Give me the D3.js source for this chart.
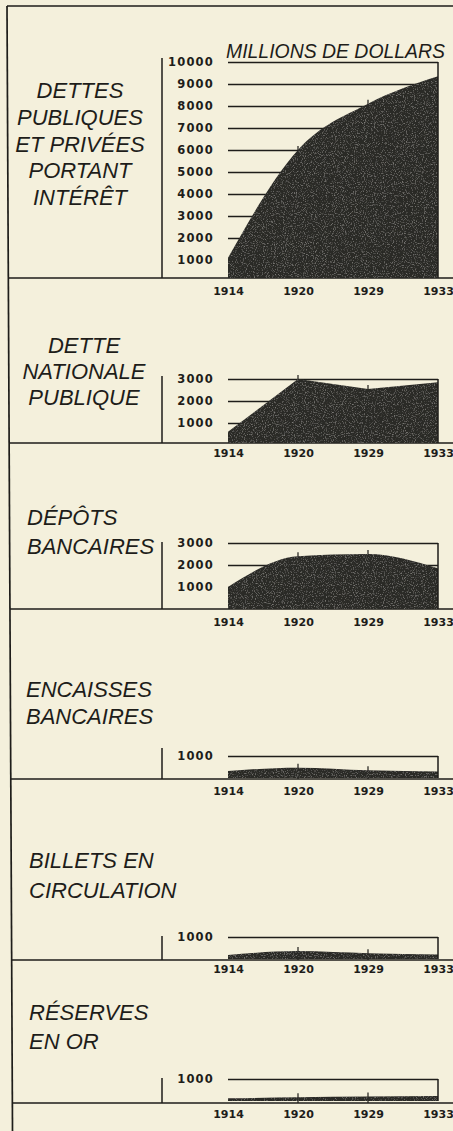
<!DOCTYPE html>
<html>
<head>
<meta charset="utf-8">
<style>
html, body { margin: 0; padding: 0; background: #f4f0dc; }
svg { display: block; background: #f4f0dc; }
.title { font-family: "Liberation Sans", sans-serif; font-style: italic; font-size: 22px; fill: #1e1d1a; }
.unit { font-family: "Liberation Sans", sans-serif; font-style: italic; font-size: 20px; fill: #1e1d1a; }
.yaxis .tick text { font-family: "DejaVu Sans", sans-serif; font-weight: bold; font-size: 11.5px; letter-spacing: 1.2px; fill: #1e1d1a; }
.xaxis .tick text { font-family: "DejaVu Sans", sans-serif; font-weight: bold; font-size: 11px; fill: #1e1d1a; }
.yaxis .tick line { stroke: #1e1d1a; stroke-width: 1.5; }
.rule { stroke: #1e1d1a; stroke-width: 1.7; fill: none; }
.frame { stroke: #1e1d1a; stroke-width: 1.5; fill: none; }
.mark { stroke: #1e1d1a; stroke-width: 1.2; }
.area { fill: #2b2a27; }
</style>
</head>
<body>
<svg width="453" height="1131"></svg>
<script src="https://cdn.jsdelivr.net/npm/d3@7"></script>
<script>

// data, millions de dollars
var years = [1914, 1920, 1929, 1933];

var dettesPubliquesPrivees = [1100, 6000, 8100, 9350];
var detteNationale = [600, 3000, 2550, 2850];
var depotsBancaires = [1000, 2400, 2500, 1850];
var encaissesBancaires = [320, 470, 350, 290];
var billetsCirculation = [180, 360, 260, 210];
var reservesOr = [120, 170, 200, 230];

var ticksDettes = [1000, 2000, 3000, 4000, 5000, 6000, 7000, 8000, 9000, 10000];
var ticksMoyens = [1000, 2000, 3000];
var ticksPetits = [1000];

var titreDettes = ["DETTES", "PUBLIQUES", "ET PRIVÉES", "PORTANT", "INTÉRÊT"];
var titreDette = ["DETTE", "NATIONALE", "PUBLIQUE"];
var titreDepots = ["DÉPÔTS", "BANCAIRES"];
var titreEncaisses = ["ENCAISSES", "BANCAIRES"];
var titreBillets = ["BILLETS EN", "CIRCULATION"];
var titreReserves = ["RÉSERVES", "EN OR"];

var unite = "MILLIONS DE DOLLARS";

var svg = d3.select("svg");
var W = 453, H = 1131;
var pxPer1000 = 22;

// grain for the black areas
var defs = svg.append("defs");
var grain = defs.append("filter").attr("id", "grain");
grain.append("feTurbulence")
  .attr("type", "fractalNoise").attr("baseFrequency", 0.9).attr("numOctaves", 2).attr("seed", 3)
  .attr("result", "noise");
grain.append("feColorMatrix").attr("in", "noise").attr("type", "matrix")
  .attr("values", "0 0 0 0 0.36  0 0 0 0 0.35  0 0 0 0 0.33  1.6 0 0 0 -0.85")
  .attr("result", "speck");
grain.append("feComposite").attr("in", "speck").attr("in2", "SourceGraphic").attr("operator", "in").attr("result", "clipped");
var merge = grain.append("feMerge");
merge.append("feMergeNode").attr("in", "SourceGraphic");
merge.append("feMergeNode").attr("in", "clipped");

var x = d3.scalePoint().domain(years).range([228, 438]);

var panels = [
  { values: dettesPubliquesPrivees, ticks: ticksDettes, title: titreDettes, zero: 282, sep: 278,
    tx: 80, anchor: "middle", ty: 98, lead: 26.8, curve: d3.curveMonotoneX, yearPad: 9, axisExtra: 4 },
  { values: detteNationale, ticks: ticksMoyens, title: titreDette, zero: 445, sep: 443,
    tx: 84, anchor: "middle", ty: 353, lead: 26, curve: d3.curveLinear, yearPad: 6.5, axisExtra: 3 },
  { values: depotsBancaires, ticks: ticksMoyens, title: titreDepots, zero: 609, sep: 609,
    tx: 27, anchor: "start", ty: 525, lead: 29, curve: d3.curveMonotoneX, yearPad: 9.5, axisExtra: 1 },
  { values: encaissesBancaires, ticks: ticksPetits, title: titreEncaisses, zero: 778, sep: 779,
    tx: 26, anchor: "start", ty: 697, lead: 27, curve: d3.curveMonotoneX, yearPad: 8, axisExtra: 8 },
  { values: billetsCirculation, ticks: ticksPetits, title: titreBillets, zero: 959, sep: 960,
    tx: 29, anchor: "start", ty: 868, lead: 30, curve: d3.curveMonotoneX, yearPad: 5, axisExtra: 1 },
  { values: reservesOr, ticks: ticksPetits, title: titreReserves, zero: 1101, sep: 1103,
    tx: 29, anchor: "start", ty: 1020, lead: 28.5, curve: d3.curveMonotoneX, yearPad: 7.5, axisExtra: 1 }
];

// outer border
svg.append("line").attr("class", "rule").attr("x1", 7).attr("y1", 6).attr("x2", W).attr("y2", 6);
svg.append("line").attr("class", "rule").attr("x1", 7).attr("y1", 6).attr("x2", 12.5).attr("y2", H);

function leftEdge(yy) { return 7 + 5.5 * (yy - 6) / (H - 6); }

panels.forEach(function(p) {
  var top = d3.max(p.ticks);
  var y = d3.scaleLinear().domain([0, top]).range([p.zero, p.zero - pxPer1000 * top / 1000]);
  var bottom = Math.min(p.zero, p.sep);
  var g = svg.append("g");

  // separator
  g.append("line").attr("class", "rule")
    .attr("x1", leftEdge(p.sep)).attr("y1", p.sep).attr("x2", W).attr("y2", p.sep);

  // gridlines + value labels
  var yAxis = d3.axisLeft(y)
    .tickValues(p.ticks)
    .tickFormat(d3.format("d"))
    .tickSize(-(x.range()[1] - x.range()[0]))
    .tickPadding(14);
  var ya = g.append("g").attr("class", "yaxis")
    .attr("transform", "translate(" + x.range()[0] + ",0)")
    .call(yAxis);
  ya.select(".domain").remove();

  // vertical axis line
  g.append("line").attr("class", "frame")
    .attr("x1", 162).attr("x2", 162)
    .attr("y1", y(top) - p.axisExtra).attr("y2", p.sep);

  // small marks at intermediate years (under the area)
  g.selectAll(".mark").data(years.slice(1, -1)).enter().append("line")
    .attr("class", "mark")
    .attr("x1", function(d) { return x(d); }).attr("x2", function(d) { return x(d); })
    .attr("y1", function(d) { return y(p.values[years.indexOf(d)]) - 4; })
    .attr("y2", p.sep);

  // area
  var area = d3.area()
    .x(function(d, i) { return x(years[i]); })
    .y0(bottom)
    .y1(function(d) { return Math.min(y(d), bottom); })
    .curve(p.curve);
  g.append("path").datum(p.values).attr("class", "area")
    .attr("filter", "url(#grain)")
    .attr("d", area);

  // right frame side
  g.append("line").attr("class", "frame")
    .attr("x1", x(years[years.length - 1])).attr("x2", x(years[years.length - 1]))
    .attr("y1", y(top)).attr("y2", bottom);

  // years
  var xAxis = d3.axisBottom(x).tickSize(0).tickPadding(p.yearPad);
  var xa = g.append("g").attr("class", "xaxis")
    .attr("transform", "translate(0," + p.sep + ")")
    .call(xAxis);
  xa.select(".domain").remove();

  // title
  g.selectAll(".title").data(p.title).enter().append("text")
    .attr("class", "title")
    .attr("x", p.tx)
    .attr("y", function(d, i) { return p.ty + i * p.lead; })
    .attr("text-anchor", p.anchor)
    .text(function(d) { return d; });
});

svg.append("text").attr("class", "unit")
  .attr("x", 226).attr("y", 58)
  .attr("textLength", 219).attr("lengthAdjust", "spacingAndGlyphs")
  .text(unite);

</script>
</body>
</html>
